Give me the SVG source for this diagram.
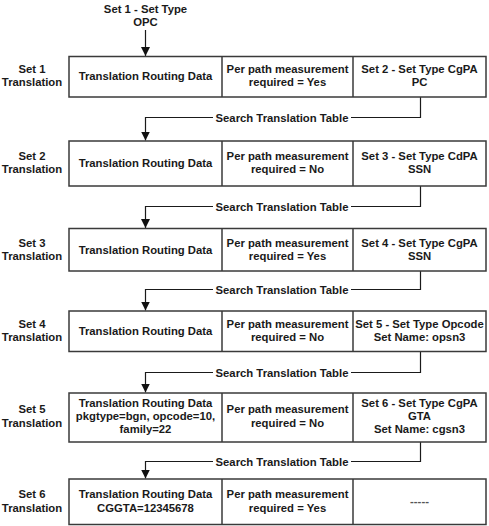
<svg xmlns="http://www.w3.org/2000/svg" width="489" height="526" viewBox="0 0 489 526">
<style>
text{font-family:"Liberation Sans",Arial,sans-serif;font-weight:bold;font-size:11.3px;fill:#1a1a1a;text-anchor:middle}
.box{fill:#fff;stroke:#3a3a3a;stroke-width:1.5}
.div{stroke:#3a3a3a;stroke-width:1.5}
.con{fill:none;stroke:#1a1a1a;stroke-width:1.2}
.dash{fill:#555}
</style>
<defs>
<marker id="ah" markerWidth="9" markerHeight="11" refX="9" refY="4.5" orient="auto" markerUnits="userSpaceOnUse">
<path d="M0,0 L9,4.5 L0,9 Z" fill="#111"/>
</marker>
</defs>
<rect width="489" height="526" fill="#fff"/>

<g id="start">
<text x="145.5" y="12.5">Set 1 - Set Type</text>
<text x="145.5" y="26">OPC</text>
</g>

<g id="connectors">
<path class="con" d="M145.5,30 V56" marker-end="url(#ah)"/>
<path class="con" d="M420.5,97 V117.5 H351 M213,117.5 H145.5 V140.5" marker-end="url(#ah)"/>
<path class="con" d="M420.5,186 V206.5 H351 M213,206.5 H145.5 V228" marker-end="url(#ah)"/>
<path class="con" d="M420.5,271 V289.5 H351 M213,289.5 H145.5 V310.5" marker-end="url(#ah)"/>
<path class="con" d="M420.5,351.5 V372.5 H351 M213,372.5 H145.5 V392.5" marker-end="url(#ah)"/>
<path class="con" d="M420.5,442 V461.5 H351 M213,461.5 H145.5 V478.5" marker-end="url(#ah)"/>
<text x="282" y="121.5">Search Translation Table</text>
<text x="282" y="210.5">Search Translation Table</text>
<text x="282" y="293.5">Search Translation Table</text>
<text x="282" y="376.5">Search Translation Table</text>
<text x="282" y="465.5">Search Translation Table</text>
</g>

<g id="set1">
<text x="32" y="73">Set 1</text>
<text x="32" y="86.3">Translation</text>
<rect class="box" x="69" y="56.5" width="417" height="40.5"/>
<line class="div" x1="222" y1="56.5" x2="222" y2="97"/>
<line class="div" x1="353" y1="56.5" x2="353" y2="97"/>
<text x="145.5" y="80">Translation Routing Data</text>
<text x="287.5" y="73">Per path measurement</text>
<text x="287.5" y="86.3">required = Yes</text>
<text x="419.5" y="73">Set 2 - Set Type CgPA</text>
<text x="419.5" y="86.3">PC</text>
</g>

<g id="set2">
<text x="32" y="160">Set 2</text>
<text x="32" y="173.3">Translation</text>
<rect class="box" x="69" y="141" width="417" height="45"/>
<line class="div" x1="222" y1="141" x2="222" y2="186"/>
<line class="div" x1="353" y1="141" x2="353" y2="186"/>
<text x="145.5" y="167">Translation Routing Data</text>
<text x="287.5" y="160">Per path measurement</text>
<text x="287.5" y="173.3">required = No</text>
<text x="419.5" y="160">Set 3 - Set Type CdPA</text>
<text x="419.5" y="173.3">SSN</text>
</g>

<g id="set3">
<text x="32" y="246.5">Set 3</text>
<text x="32" y="259.8">Translation</text>
<rect class="box" x="69" y="228.5" width="417" height="42.5"/>
<line class="div" x1="222" y1="228.5" x2="222" y2="271"/>
<line class="div" x1="353" y1="228.5" x2="353" y2="271"/>
<text x="145.5" y="253.5">Translation Routing Data</text>
<text x="287.5" y="246.5">Per path measurement</text>
<text x="287.5" y="259.8">required = Yes</text>
<text x="419.5" y="246.5">Set 4 - Set Type CgPA</text>
<text x="419.5" y="259.8">SSN</text>
</g>

<g id="set4">
<text x="32" y="327.5">Set 4</text>
<text x="32" y="340.8">Translation</text>
<rect class="box" x="69" y="311" width="417" height="40.5"/>
<line class="div" x1="222" y1="311" x2="222" y2="351.5"/>
<line class="div" x1="353" y1="311" x2="353" y2="351.5"/>
<text x="145.5" y="335">Translation Routing Data</text>
<text x="287.5" y="327.5">Per path measurement</text>
<text x="287.5" y="340.8">required = No</text>
<text x="419.5" y="327.5">Set 5 - Set Type Opcode</text>
<text x="419.5" y="340.8">Set Name: opsn3</text>
</g>

<g id="set5">
<text x="32" y="413.3">Set 5</text>
<text x="32" y="426.6">Translation</text>
<rect class="box" x="69" y="393" width="417" height="49"/>
<line class="div" x1="222" y1="393" x2="222" y2="442"/>
<line class="div" x1="353" y1="393" x2="353" y2="442"/>
<text x="145.5" y="406.7">Translation Routing Data</text>
<text x="145.5" y="420">pkgtype=bgn, opcode=10,</text>
<text x="145.5" y="433.3">family=22</text>
<text x="287.5" y="413.3">Per path measurement</text>
<text x="287.5" y="426.6">required = No</text>
<text x="419.5" y="406.7">Set 6 - Set Type CgPA</text>
<text x="419.5" y="420">GTA</text>
<text x="419.5" y="433.3">Set Name: cgsn3</text>
</g>

<g id="set6">
<text x="32" y="498">Set 6</text>
<text x="32" y="511.5">Translation</text>
<rect class="box" x="69" y="479" width="417" height="45.5"/>
<line class="div" x1="222" y1="479" x2="222" y2="524.5"/>
<line class="div" x1="353" y1="479" x2="353" y2="524.5"/>
<text x="145.5" y="498">Translation Routing Data</text>
<text x="145.5" y="511.5">CGGTA=12345678</text>
<text x="287.5" y="498">Per path measurement</text>
<text x="287.5" y="511.5">required = Yes</text>
<text x="419.5" y="505" class="dash">-----</text>
</g>
</svg>
